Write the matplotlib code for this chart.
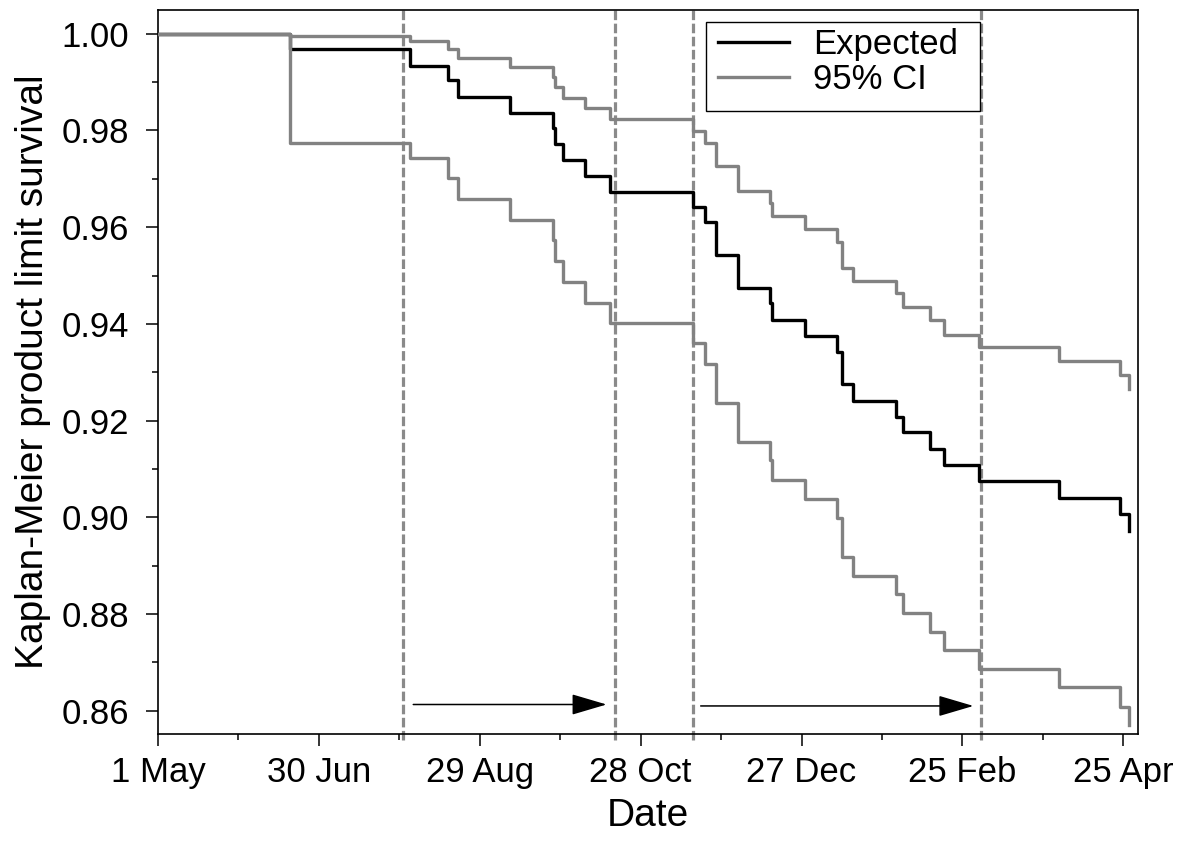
import matplotlib
matplotlib.use("Agg")
import matplotlib.pyplot as plt
from matplotlib.ticker import MultipleLocator, FixedLocator, FixedFormatter, FormatStrFormatter
from matplotlib.patches import Rectangle

plt.rcParams['font.family'] = ['Liberation Sans', 'DejaVu Sans']

# ---- data (days since 1 May) ----
event_days = [0, 49.1, 93.8, 108.2, 111.9, 131.2, 147.4, 148.0, 151.1, 159.2, 168.5,
              199.5, 204.1, 208.0, 216.2, 228.2, 229.1, 241.2, 253.1, 255.1, 259.3,
              275.2, 278.0, 288.1, 293.1, 306.2, 336.1, 358.9, 362.0]
expected = [1.0, 0.9968, 0.9934, 0.9904, 0.9870, 0.9837, 0.9806, 0.9772, 0.9739, 0.9706, 0.9673,
            0.9641, 0.9611, 0.9542, 0.9475, 0.9443, 0.9408, 0.9375, 0.9341, 0.9275, 0.9241,
            0.9208, 0.9176, 0.9141, 0.9108, 0.9076, 0.9041, 0.9006, 0.8972]
upper_ci = [1.0, 0.9996, 0.9984, 0.9969, 0.9950, 0.9932, 0.9911, 0.9890, 0.9868, 0.9846, 0.9823,
            0.9799, 0.9773, 0.9727, 0.9675, 0.9649, 0.9623, 0.9597, 0.9570, 0.9516, 0.9489,
            0.9463, 0.9434, 0.9408, 0.9378, 0.9353, 0.9323, 0.9294, 0.9265]
lower_ci = [1.0, 0.9773, 0.9744, 0.9701, 0.9658, 0.9615, 0.9573, 0.9531, 0.9486, 0.9444, 0.9401,
            0.9360, 0.9318, 0.9237, 0.9156, 0.9119, 0.9077, 0.9037, 0.8998, 0.8919, 0.8879,
            0.8841, 0.8803, 0.8763, 0.8726, 0.8686, 0.8649, 0.8608, 0.8571]

period_lines = [91.4, 170.4, 199.4, 307.0]
arrow_start = [95.2, 202.4]
arrow_end = [167.3, 304.1]
arrow_y = [0.8613, 0.8610]

tick_days = [0, 60, 120, 180, 240, 300, 360]
tick_labels = ['1 May', '30 Jun', '29 Aug', '28 Oct', '27 Dec', '25 Feb', '25 Apr']

# ---- figure ----
fig = plt.figure(figsize=(11.92, 8.48), dpi=100)
ax = fig.add_axes([158/1192, 114/848, 980/1192, 724/848])

gray = '#828282'
ax.step(event_days, expected, where='post', color='black', lw=2.4, label='Expected', zorder=3)
ax.step(event_days, upper_ci, where='post', color=gray, lw=2.4, label='95% CI', zorder=4)
ax.step(event_days, lower_ci, where='post', color=gray, lw=2.4, zorder=4)

for d in period_lines:
    ax.axvline(d, ymin=-0.008, ymax=1, color='#8a8a8a', lw=2.3, dashes=(3.0, 1.1),
               clip_on=False, zorder=2)

for x0, x1, yy in zip(arrow_start, arrow_end, arrow_y):
    ax.annotate('', xy=(x1, yy), xytext=(x0, yy),
                arrowprops=dict(arrowstyle='-|>,head_length=2.2,head_width=0.65',
                                mutation_scale=10, lw=1.1, color='black',
                                shrinkA=0, shrinkB=0))

ax.set_xlim(0, 365.5)
ax.set_ylim(0.8552, 1.0049)

ax.xaxis.set_major_locator(FixedLocator(tick_days))
ax.xaxis.set_major_formatter(FixedFormatter(tick_labels))
ax.xaxis.set_minor_locator(MultipleLocator(30))
ax.yaxis.set_major_locator(MultipleLocator(0.02))
ax.yaxis.set_minor_locator(MultipleLocator(0.01))
ax.yaxis.set_major_formatter(FormatStrFormatter('%.2f'))

ax.tick_params(which='major', direction='out', length=8.6, width=1.1, labelsize=25)
ax.tick_params(which='minor', direction='out', length=4.3, width=1.1)
ax.tick_params(axis='y', which='major', pad=12)
ax.tick_params(axis='x', which='major', pad=7)
for s in ax.spines.values():
    s.set_linewidth(1.2)
    s.set_color('black')

ax.set_xlabel('Date', fontsize=28, labelpad=7)
ax.set_ylabel('Kaplan-Meier product limit survival', fontsize=28)
ax.yaxis.set_label_coords(-0.1095, 0.5)

# legend box (frame drawn separately to match the reference proportions)
ax.add_patch(Rectangle((0.5592, 0.8605), 0.8388 - 0.5592, 0.9838 - 0.8605,
                       transform=ax.transAxes, facecolor='white', edgecolor='black',
                       lw=1.0, zorder=5))
leg = ax.legend(loc='upper left', bbox_to_anchor=(0.5714, 0.9756), borderaxespad=0,
                fontsize=25, frameon=False, handlelength=2.05, handletextpad=0.7,
                labelspacing=0.06, borderpad=0)
leg.set_zorder(6)

fig.savefig('out.png', dpi=100)
